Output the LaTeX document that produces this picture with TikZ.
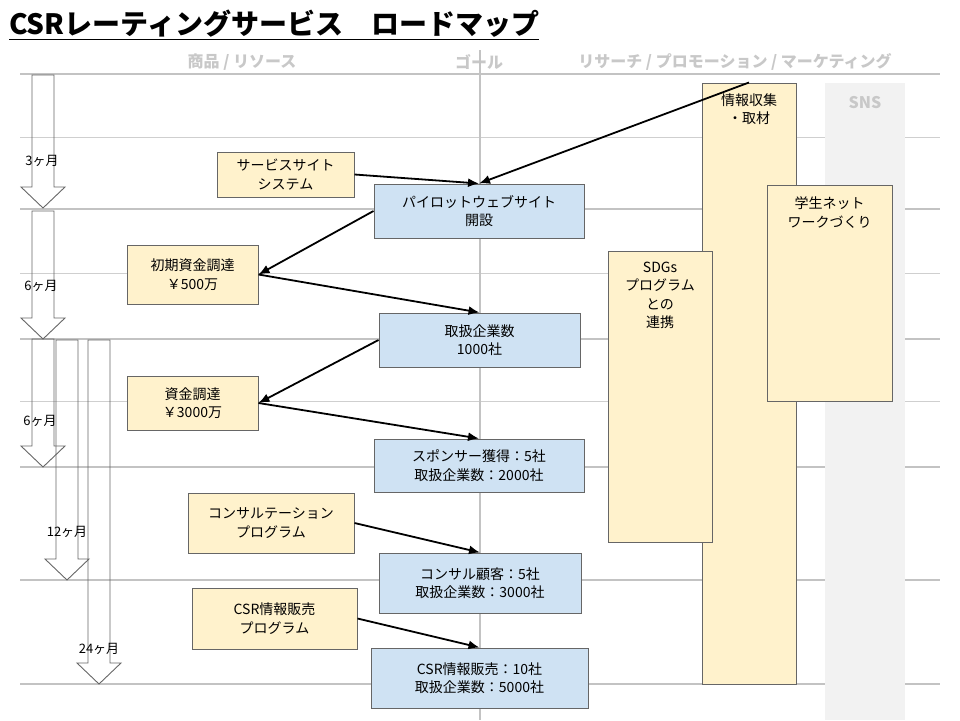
\documentclass[tikz,border=0pt]{standalone}
\usepackage{fontspec}
\setmainfont{Noto Sans CJK JP}
\usepackage{tikz}
\usetikzlibrary{positioning,arrows.meta}

\definecolor{planyellow}{HTML}{FFF2CC}
\definecolor{goalblue}{HTML}{CFE2F3}
\definecolor{boxedge}{HTML}{666666}
\definecolor{rulegray}{HTML}{C3C3C3}
\definecolor{headgray}{HTML}{C8C8C8}
\definecolor{snsgray}{HTML}{F2F2F2}

\tikzset{
  planbox/.style={draw=boxedge, fill=planyellow, line width=1pt, align=center,
    inner sep=0pt, font=\fontsize{14}{18.5}\selectfont},
  goalbox/.style={planbox, fill=goalblue},
  lanetext/.style={align=center, inner sep=0pt, font=\fontsize{14}{18.5}\selectfont},
  headtext/.style={text=headgray, inner sep=0pt, font=\fontsize{16}{18}\selectfont\bfseries},
  monthtext/.style={inner sep=0pt, font=\fontsize{13}{15}\selectfont},
  monthline/.style={draw=boxedge, line width=0.9pt},
  rulethick/.style={draw=rulegray, line width=2pt},
  rulethin/.style={draw=rulegray!80, line width=1pt},
  flow/.style={-{Latex[length=11pt,width=9pt]}, line width=1.8pt}
}

% block arrow for a period: centre x, top y, tip y
\newcommand{\montharrow}[3]{%
  \draw[monthline] (#1-11,#2) -- (#1-11,#3-21) -- (#1-22,#3-21) -- (#1,#3)
    -- (#1+22,#3-21) -- (#1+11,#3-21) -- (#1+11,#2) -- cycle;}

\begin{document}
\begin{tikzpicture}[x=1pt,y=-1pt]
    \useasboundingbox (0,0) rectangle (960,720);

    % title and lane heads
    \node[anchor=west, inner sep=0pt, font=\fontsize{28}{32}\selectfont\bfseries] (title) at (9,25)
        {\underline{CSRレーティングサービス　ロードマップ}};
    \node[headtext] (lres) at (242,62) {商品 / リソース};
    \node[headtext] (lgoal) at (479,62) {ゴール};
    \node[headtext] (lmkt) at (735,62) {リサーチ / プロモーション / マーケティング};

    % grid
    \foreach \y in {74,209,339,467,580,684}
        \draw[rulethick] (20,\y) -- (940,\y);
    \foreach \y in {137,273,401}
        \draw[rulethin] (20,\y) -- (940,\y);
    \draw[rulethick] (480,50) -- (480,720);

    % periods
    \montharrow{43}{75}{208}
    \montharrow{43}{211}{339}
    \montharrow{43}{339}{467}
    \montharrow{67}{340}{580}
    \montharrow{99}{340}{684}
    \node[monthtext] (m3) at (42,161) {3ヶ月};
    \node[monthtext] (m6a) at (41,286) {6ヶ月};
    \node[monthtext] (m6b) at (40,421) {6ヶ月};
    \node[monthtext] (m12) at (67,532) {12ヶ月};
    \node[monthtext] (m24) at (99,649) {24ヶ月};

    % right lanes
    \node[fill=snsgray, minimum width=80pt, minimum height=637pt, inner sep=0pt] (sns) at (865,401.5) {};
    \node[headtext, below=13pt of sns.north] (snstext) {SNS};
    \foreach \y in {209,339,467,580,684}
        \draw[rulethick] (905,\y) -- (940,\y);
    \foreach \y in {137,273}
        \draw[rulethin] (905,\y) -- (940,\y);
    \node[planbox, minimum width=94pt, minimum height=601pt] (info) at (749,383.5) {};
    \node[lanetext, below=11pt of info.north] (infotext) {情報収集\\・取材};
    \node[planbox, minimum width=104pt, minimum height=291pt] (sdgs) at (660,396.5) {};
    \node[lanetext, below=11pt of sdgs.north] (sdgstext) {SDGs\\プログラム\\との\\連携};
    \node[planbox, minimum width=125pt, minimum height=216pt] (student) at (829.5,293) {};
    \node[lanetext, below=12pt of student.north] (studenttext) {学生ネット\\ワークづくり};

    % resources
    \node[planbox, minimum width=137pt, minimum height=45pt] (service) at (285.5,174.5) {サービスサイト\\システム};
    \node[planbox, minimum width=131pt, minimum height=59pt] (fund1) at (192.5,274.5) {初期資金調達\\￥500万};
    \node[planbox, minimum width=131pt, minimum height=54pt] (fund2) at (192.5,403) {資金調達\\￥3000万};
    \node[planbox, minimum width=166pt, minimum height=60pt] (consult) at (271,523) {コンサルテーション\\プログラム};
    \node[planbox, minimum width=165pt, minimum height=61pt] (csrprog) at (274.5,618.5) {CSR情報販売\\プログラム};

    % goals
    \node[goalbox, minimum width=210pt, minimum height=54pt] (pilot) at (479,211) {パイロットウェブサイト\\開設};
    \node[goalbox, minimum width=201pt, minimum height=54pt] (k1000) at (479.5,340) {取扱企業数\\1000社};
    \node[goalbox, minimum width=210pt, minimum height=53pt] (k2000) at (479,465.5) {スポンサー獲得：5社\\取扱企業数：2000社};
    \node[goalbox, minimum width=202pt, minimum height=60pt] (k3000) at (480,583) {コンサル顧客：5社\\取扱企業数：3000社};
    \node[goalbox, minimum width=217pt, minimum height=60pt] (k5000) at (479.5,678) {CSR情報販売：10社\\取扱企業数：5000社};

    % flows
    \draw[flow] (info.north) -- (pilot.north);
    \draw[flow] (service.east) -- (pilot.north);
    \draw[flow] (pilot.west) -- (fund1.east);
    \draw[flow] (fund1.east) -- (k1000.north);
    \draw[flow] (k1000.west) -- (fund2.east);
    \draw[flow] (fund2.east) -- (k2000.north);
    \draw[flow] (consult.east) -- (k3000.north);
    \draw[flow] (csrprog.east) -- (k5000.north);
\end{tikzpicture}
\end{document}
